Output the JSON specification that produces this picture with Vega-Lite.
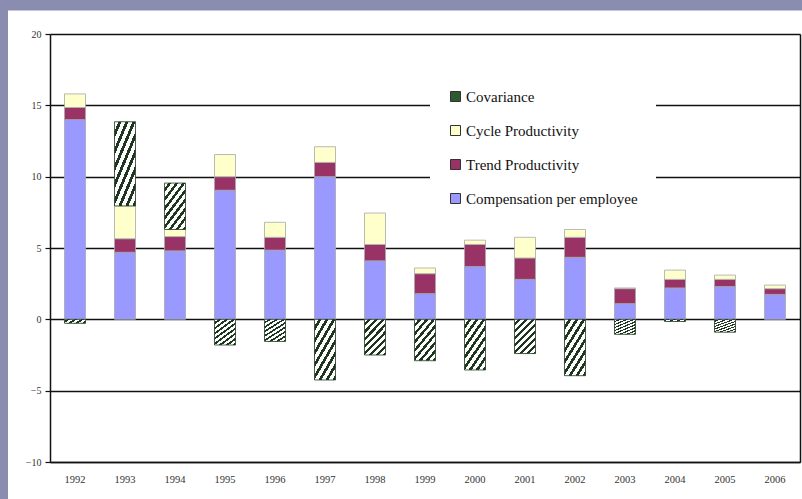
{
  "$schema": "https://vega.github.io/schema/vega-lite/v6.json",
  "width": 750,
  "height": 428,
  "autosize": "none",
  "padding": {"left": 50, "top": 34, "right": 2, "bottom": 37},
  "background": "#8b8db0",
  "config": {
    "font": "Liberation Serif",
    "view": {"fill": "white", "stroke": "white", "strokeWidth": 84, "strokeJoin": "miter"}
  },
  "data": {
    "values": [
      {"year": "1992", "series": "Compensation per employee", "value": 14.0},
      {"year": "1992", "series": "Trend Productivity", "value": 0.85},
      {"year": "1992", "series": "Cycle Productivity", "value": 0.95},
      {"year": "1992", "series": "Covariance", "value": -0.28},
      {"year": "1993", "series": "Compensation per employee", "value": 4.7},
      {"year": "1993", "series": "Trend Productivity", "value": 0.95},
      {"year": "1993", "series": "Cycle Productivity", "value": 2.3},
      {"year": "1993", "series": "Covariance", "value": 5.9},
      {"year": "1994", "series": "Compensation per employee", "value": 4.8},
      {"year": "1994", "series": "Trend Productivity", "value": 1.0},
      {"year": "1994", "series": "Cycle Productivity", "value": 0.5},
      {"year": "1994", "series": "Covariance", "value": 3.25},
      {"year": "1995", "series": "Compensation per employee", "value": 9.05},
      {"year": "1995", "series": "Trend Productivity", "value": 0.95},
      {"year": "1995", "series": "Cycle Productivity", "value": 1.55},
      {"year": "1995", "series": "Covariance", "value": -1.8},
      {"year": "1996", "series": "Compensation per employee", "value": 4.85},
      {"year": "1996", "series": "Trend Productivity", "value": 0.9},
      {"year": "1996", "series": "Cycle Productivity", "value": 1.05},
      {"year": "1996", "series": "Covariance", "value": -1.55},
      {"year": "1997", "series": "Compensation per employee", "value": 10.0},
      {"year": "1997", "series": "Trend Productivity", "value": 1.0},
      {"year": "1997", "series": "Cycle Productivity", "value": 1.1},
      {"year": "1997", "series": "Covariance", "value": -4.25},
      {"year": "1998", "series": "Compensation per employee", "value": 4.1},
      {"year": "1998", "series": "Trend Productivity", "value": 1.15},
      {"year": "1998", "series": "Cycle Productivity", "value": 2.2},
      {"year": "1998", "series": "Covariance", "value": -2.5},
      {"year": "1999", "series": "Compensation per employee", "value": 1.8},
      {"year": "1999", "series": "Trend Productivity", "value": 1.4},
      {"year": "1999", "series": "Cycle Productivity", "value": 0.4},
      {"year": "1999", "series": "Covariance", "value": -2.9},
      {"year": "2000", "series": "Compensation per employee", "value": 3.7},
      {"year": "2000", "series": "Trend Productivity", "value": 1.55},
      {"year": "2000", "series": "Cycle Productivity", "value": 0.3},
      {"year": "2000", "series": "Covariance", "value": -3.55},
      {"year": "2001", "series": "Compensation per employee", "value": 2.8},
      {"year": "2001", "series": "Trend Productivity", "value": 1.5},
      {"year": "2001", "series": "Cycle Productivity", "value": 1.45},
      {"year": "2001", "series": "Covariance", "value": -2.4},
      {"year": "2002", "series": "Compensation per employee", "value": 4.35},
      {"year": "2002", "series": "Trend Productivity", "value": 1.4},
      {"year": "2002", "series": "Cycle Productivity", "value": 0.55},
      {"year": "2002", "series": "Covariance", "value": -3.95},
      {"year": "2003", "series": "Compensation per employee", "value": 1.1},
      {"year": "2003", "series": "Trend Productivity", "value": 1.05},
      {"year": "2003", "series": "Cycle Productivity", "value": 0.05},
      {"year": "2003", "series": "Covariance", "value": -1.05},
      {"year": "2004", "series": "Compensation per employee", "value": 2.2},
      {"year": "2004", "series": "Trend Productivity", "value": 0.6},
      {"year": "2004", "series": "Cycle Productivity", "value": 0.65},
      {"year": "2004", "series": "Covariance", "value": -0.15},
      {"year": "2005", "series": "Compensation per employee", "value": 2.3},
      {"year": "2005", "series": "Trend Productivity", "value": 0.5},
      {"year": "2005", "series": "Cycle Productivity", "value": 0.3},
      {"year": "2005", "series": "Covariance", "value": -0.9},
      {"year": "2006", "series": "Compensation per employee", "value": 1.75},
      {"year": "2006", "series": "Trend Productivity", "value": 0.4},
      {"year": "2006", "series": "Cycle Productivity", "value": 0.25}
    ]
  },
  "layer": [
    {
      "transform": [
        {
          "calculate": "indexof(['Compensation per employee', 'Trend Productivity', 'Cycle Productivity', 'Covariance'], datum.series)",
          "as": "stack_rank"
        }
      ],
      "mark": {"type": "bar", "strokeWidth": 0.8},
      "encoding": {
        "x": {
          "field": "year",
          "type": "nominal",
          "title": null,
          "scale": {"paddingInner": 0.58, "paddingOuter": 0.29},
          "axis": {
            "orient": "bottom",
            "ticks": false,
            "grid": false,
            "domainColor": "#111111",
            "domainWidth": 1.5,
            "labelAngle": 0,
            "labelFont": "Liberation Serif",
            "labelFontSize": 10.5,
            "labelColor": "#333333",
            "labelPadding": 12
          }
        },
        "y": {
          "field": "value",
          "type": "quantitative",
          "stack": "zero",
          "title": null,
          "scale": {"domain": [-10, 20], "nice": false, "zero": false},
          "axis": {
            "orient": "left",
            "values": [-10, -5, 0, 5, 10, 15, 20],
            "grid": true,
            "gridColor": "#111111",
            "gridWidth": 1.5,
            "domainColor": "#111111",
            "domainWidth": 1.5,
            "tickColor": "#111111",
            "tickSize": 5,
            "tickWidth": 1.2,
            "labelFont": "Liberation Serif",
            "labelFontSize": 10,
            "labelColor": "#333333",
            "labelPadding": 4
          }
        },
        "order": {"field": "stack_rank", "type": "quantitative", "sort": "ascending"},
        "fill": {
          "condition": {
            "test": "datum.series === 'Covariance'",
            "value": {
              "gradient": "linear",
              "x1": 0, "y1": 0, "x2": 0.706, "y2": 1.176,
              "stops": [
                {"offset": 0, "color": "#ffffff"},
                {"offset": 0.07, "color": "#ffffff"},
                {"offset": 0.07, "color": "#1e361e"},
                {"offset": 0.125, "color": "#1e361e"},
                {"offset": 0.125, "color": "#ffffff"},
                {"offset": 0.195, "color": "#ffffff"},
                {"offset": 0.195, "color": "#1e361e"},
                {"offset": 0.25, "color": "#1e361e"},
                {"offset": 0.25, "color": "#ffffff"},
                {"offset": 0.32, "color": "#ffffff"},
                {"offset": 0.32, "color": "#1e361e"},
                {"offset": 0.375, "color": "#1e361e"},
                {"offset": 0.375, "color": "#ffffff"},
                {"offset": 0.445, "color": "#ffffff"},
                {"offset": 0.445, "color": "#1e361e"},
                {"offset": 0.5, "color": "#1e361e"},
                {"offset": 0.5, "color": "#ffffff"},
                {"offset": 0.57, "color": "#ffffff"},
                {"offset": 0.57, "color": "#1e361e"},
                {"offset": 0.625, "color": "#1e361e"},
                {"offset": 0.625, "color": "#ffffff"},
                {"offset": 0.695, "color": "#ffffff"},
                {"offset": 0.695, "color": "#1e361e"},
                {"offset": 0.75, "color": "#1e361e"},
                {"offset": 0.75, "color": "#ffffff"},
                {"offset": 0.82, "color": "#ffffff"},
                {"offset": 0.82, "color": "#1e361e"},
                {"offset": 0.875, "color": "#1e361e"},
                {"offset": 0.875, "color": "#ffffff"},
                {"offset": 0.945, "color": "#ffffff"},
                {"offset": 0.945, "color": "#1e361e"},
                {"offset": 1, "color": "#1e361e"}
              ]
            }
          },
          "field": "series",
          "type": "nominal",
          "sort": ["Compensation per employee", "Trend Productivity", "Cycle Productivity", "Covariance"],
          "scale": {
            "domain": ["Compensation per employee", "Trend Productivity", "Cycle Productivity", "Covariance"],
            "range": ["#9999ff", "#993366", "#ffffcc", "#2f5a2f"]
          },
          "legend": {
            "orient": "none",
            "legendX": 380,
            "legendY": 37,
            "title": null,
            "values": ["Covariance", "Cycle Productivity", "Trend Productivity", "Compensation per employee"],
            "symbolType": "square",
            "symbolSize": 100,
            "symbolStrokeColor": "#333333",
            "symbolStrokeWidth": 1,
            "labelFont": "Liberation Serif",
            "labelFontSize": 15,
            "labelColor": "#111111",
            "labelOffset": 3,
            "labelLimit": 300,
            "rowPadding": 18,
            "padding": 18,
            "fillColor": "white"
          }
        },
        "stroke": {
          "condition": {"test": "datum.series === 'Covariance'", "value": "#1e3a1e"},
          "value": "#a8a8a8"
        }
      }
    },
    {
      "mark": {"type": "point", "opacity": 0},
      "encoding": {
        "x": {
          "field": "year",
          "type": "nominal",
          "title": null,
          "axis": {
            "orient": "top",
            "labels": false,
            "ticks": false,
            "grid": false,
            "domainColor": "#8b8db0",
            "domainWidth": 90,
            "domainCap": "square",
            "offset": 69
          }
        },
        "y": {
          "field": "value",
          "type": "quantitative",
          "title": null,
          "axis": {
            "orient": "right",
            "labels": false,
            "ticks": false,
            "grid": false,
            "domainColor": "#111111",
            "domainWidth": 1.5
          }
        }
      }
    }
  ],
  "resolve": {"axis": {"x": "independent", "y": "independent"}}
}
